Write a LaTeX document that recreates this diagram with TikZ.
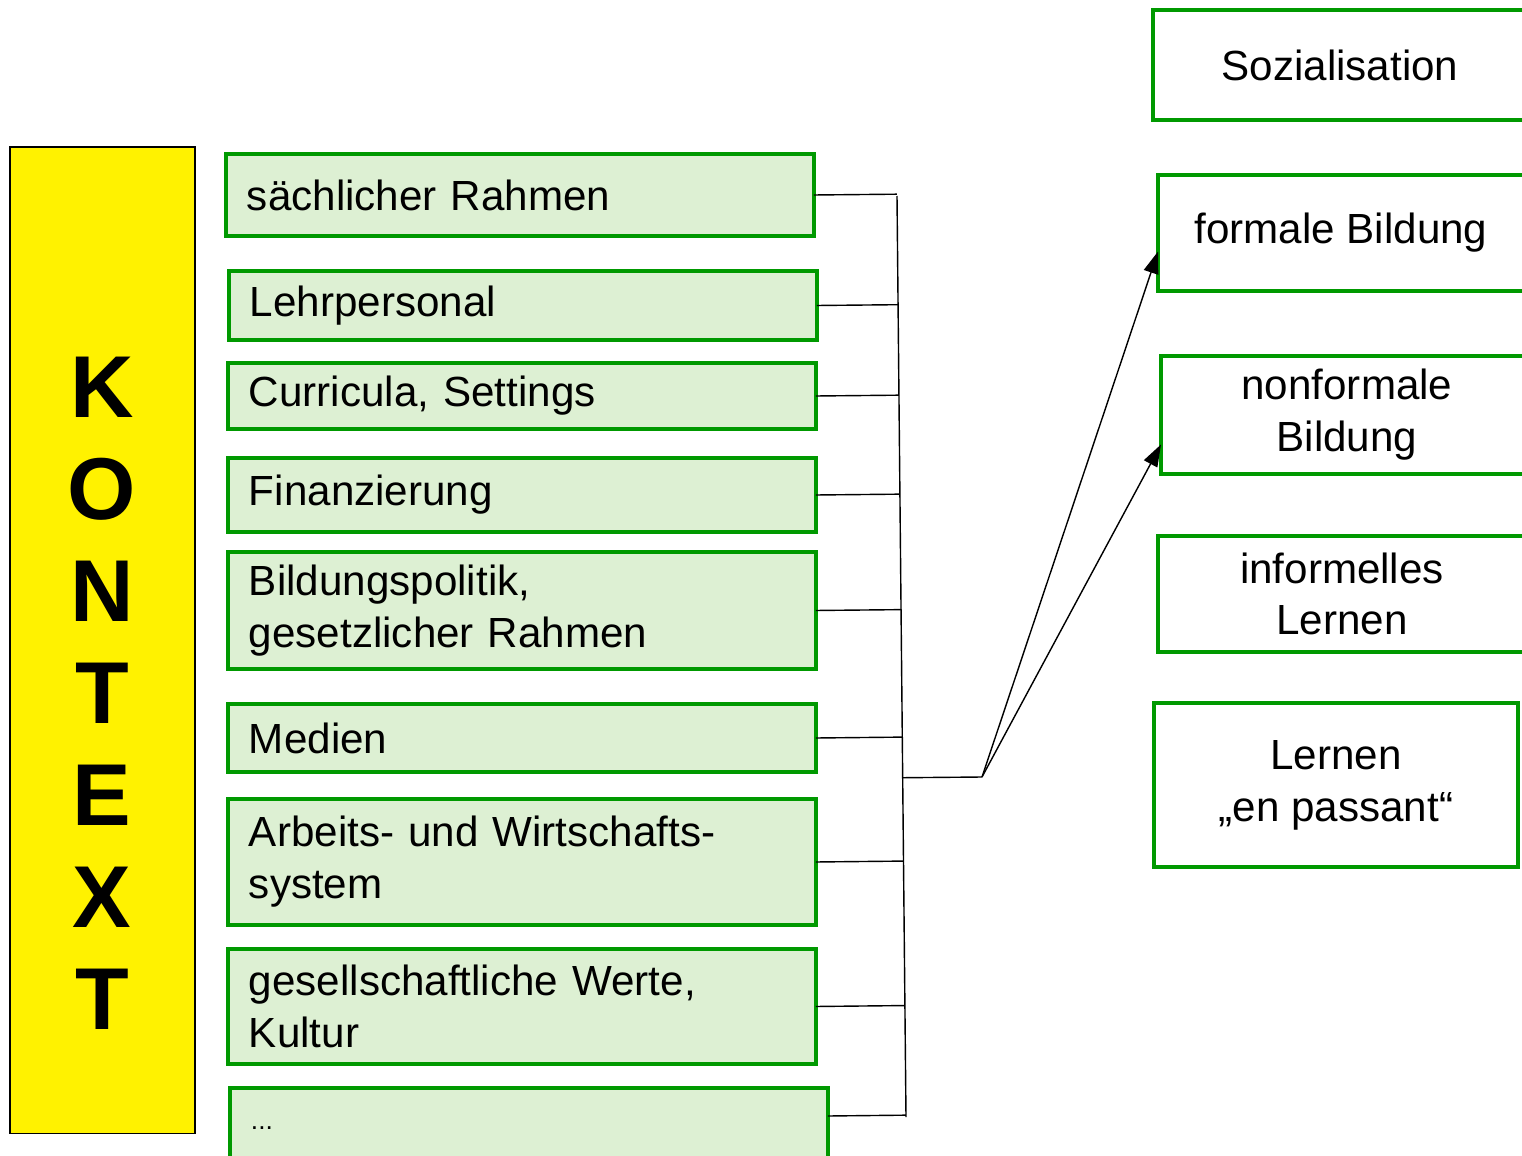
\documentclass[tikz,border=0pt]{standalone}
\usepackage{fontspec}
\setmainfont{Liberation Sans}
\usetikzlibrary{calc,arrows.meta}
\definecolor{rahmen}{RGB}{0,153,0}
\definecolor{fuell}{RGB}{221,240,211}

\begin{document}
\begin{tikzpicture}[x=0.02cm,y=-0.02cm,
  kbox/.style={draw=black,fill=yellow,line width=0.7pt,anchor=north west,
    inner sep=0pt,outer sep=0pt,minimum width=3.7cm,minimum height=19.74cm},
  kletter/.style={font=\fontsize{50}{60}\selectfont\bfseries,inner sep=0pt},
  lbox/.style={draw=rahmen,fill=fuell,line width=2.4pt,anchor=north west,
    text width=10.92cm,inner xsep=0.42cm,inner ysep=0pt,outer sep=0pt,
    align=left,font=\fontsize{24}{29.5}\selectfont},
  rbox/.style={draw=rahmen,fill=white,line width=2.4pt,anchor=north west,
    inner sep=0pt,outer sep=0pt,align=center,
    font=\fontsize{24}{29.5}\selectfont},
  verb/.style={black,line width=0.8pt},
  pfeil/.style={verb,-{Triangle[length=0.44cm,width=0.3cm]}}]
    \clip (0,0) rectangle (1522,1156);
    % Kontext
    \node[kbox] (kontext) at (10,147) {};
    \foreach \l [count=\i] in {K,O,N,T,E,X,T}
      \node[kletter] (k\i) at (102,{387+102*(\i-1)}) {\l};

    % Faktoren
    \node[lbox,minimum height=1.64cm] (b1) at (226,154) {sächlicher Rahmen};
    \node[lbox,minimum height=1.38cm] (b2) at (229,271) {Lehrpersonal};
    \node[lbox,minimum height=1.32cm] (b3) at (228,363) {Curricula, Settings};
    \node[lbox,minimum height=1.48cm] (b4) at (228,458) {Finanzierung};
    \node[lbox,minimum height=2.34cm] (b5) at (228,552)
      {Bildungspolitik,\\gesetzlicher Rahmen};
    \node[lbox,minimum height=1.36cm] (b6) at (228,704) {Medien};
    \node[lbox,minimum height=2.52cm] (b7) at (228,799)
      {Arbeits- und Wirtschafts-\\system};
    \node[lbox,minimum height=2.30cm] (b8) at (228,949)
      {gesellschaftliche Werte,\\Kultur};
    \node[lbox,minimum height=1.6cm,text width=11.12cm,
      font=\fontsize{15}{18}\selectfont] (b9) at (230,1088) {...};

    % Lernformen
    \node[rbox,minimum width=7.48cm,minimum height=2.2cm] (r1) at (1153,10)
      {Sozialisation};
    \node[rbox,minimum width=7.32cm,minimum height=2.32cm] (r2) at (1158,175)
      {formale Bildung};
    \node[rbox,minimum width=7.44cm,minimum height=2.36cm] (r3) at (1161,356)
      {nonformale\\Bildung};
    \node[rbox,minimum width=7.36cm,minimum height=2.32cm] (r4) at (1158,536)
      {informelles\\Lernen};
    \node[rbox,minimum width=7.28cm,minimum height=3.28cm] (r5) at (1154,703)
      {Lernen\\„en passant“};

    % Klammer
    \coordinate (bt) at (897,196);
    \coordinate (bb) at (906,1117);
    \coordinate (hub) at (982,777);
    \coordinate (b9e) at ($(b9.north east)!0.35!(b9.south east)$);
    \draw[verb] (bt) -- (bb);
    \foreach \b in {b1.east,b2.east,b3.east,b4.east,b5.east,b6.east,b7.east,
      b8.east,b9e}
      \draw[verb] (\b) -- ($(bt)!(\b)!(bb)$);
    \draw[verb] ($(bt)!(hub)!(bb)$) -- (hub);

    % Pfeile
    \draw[pfeil] (hub) -- ($(r2.north west)!0.66!(r2.south west)$);
    \draw[pfeil] (hub) -- ($(r3.north west)!0.75!(r3.south west)$);
\end{tikzpicture}
\end{document}
